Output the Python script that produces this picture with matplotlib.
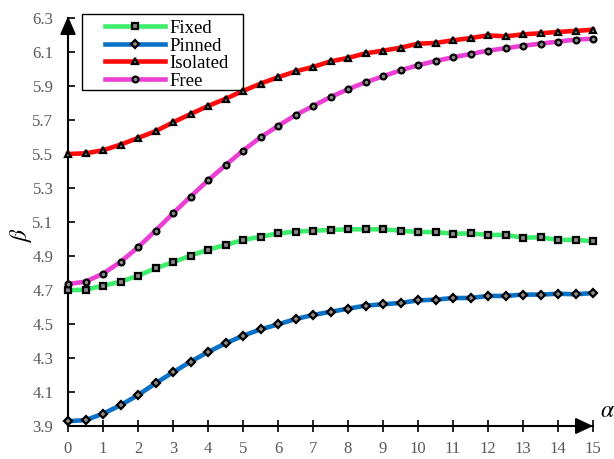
import numpy as np
import matplotlib
matplotlib.use('Agg')
import matplotlib.pyplot as plt
from matplotlib.patches import Polygon, Rectangle

# === DATA ===
alpha = np.arange(0, 15.01, 0.5)

fixed = [4.698, 4.702, 4.725, 4.749, 4.784, 4.828, 4.863, 4.902, 4.937, 4.965,
         4.994, 5.013, 5.033, 5.043, 5.049, 5.053, 5.057, 5.057, 5.057, 5.049,
         5.041, 5.041, 5.031, 5.033, 5.024, 5.024, 5.008, 5.010, 4.994, 4.996,
         4.986]
pinned = [3.928, 3.935, 3.972, 4.022, 4.082, 4.151, 4.216, 4.278, 4.335, 4.386,
          4.431, 4.468, 4.498, 4.529, 4.553, 4.572, 4.590, 4.608, 4.616, 4.624,
          4.639, 4.643, 4.653, 4.653, 4.665, 4.665, 4.673, 4.673, 4.678, 4.675,
          4.682]
isolated = [5.500, 5.504, 5.522, 5.555, 5.594, 5.634, 5.686, 5.735, 5.782, 5.825,
            5.871, 5.914, 5.951, 5.986, 6.012, 6.045, 6.065, 6.092, 6.108, 6.125,
            6.149, 6.153, 6.169, 6.182, 6.198, 6.192, 6.204, 6.210, 6.218, 6.224,
            6.231]
free = [4.735, 4.749, 4.796, 4.865, 4.951, 5.049, 5.151, 5.249, 5.345, 5.434,
        5.520, 5.598, 5.665, 5.729, 5.782, 5.835, 5.881, 5.922, 5.957, 5.992,
        6.022, 6.047, 6.069, 6.088, 6.108, 6.122, 6.137, 6.149, 6.161, 6.173,
        6.178]

labels = ['Fixed', 'Pinned', 'Isolated', 'Free']
colors = ['#3ded6c', '#0a72c6', '#ff0a0a', '#ea3ed4']
markers = ['s', 'D', '^', 'o']
msizes = [4.0, 3.6, 4.6, 4.2]

yticks = np.round(np.arange(3.9, 6.31, 0.2), 1)
xticks = np.arange(0, 16, 1)

# === PLOT ===
plt.rcParams['font.family'] = ['Liberation Serif', 'DejaVu Serif']
plt.rcParams['mathtext.fontset'] = 'stix'

fig = plt.figure(figsize=(6.14, 4.59), dpi=100)
ax = fig.add_axes([68 / 614, 33 / 459, 525 / 614, 408 / 459])

for ys, lab, c, m, ms in zip([fixed, pinned, isolated, free], labels, colors, markers, msizes):
    ax.plot(alpha, ys, color=c, lw=3.3, marker=m, markersize=ms,
            markerfacecolor='#8a8a8a', markeredgecolor='black', markeredgewidth=1.6,
            label=lab, clip_on=False, zorder=3)

ax.set_xlim(0, 15)
ax.set_ylim(3.9, 6.3)
ax.set_xticks(xticks)
ax.set_yticks(yticks)
ax.set_yticklabels([f'{v:.1f}' for v in yticks])
ax.tick_params(axis='x', direction='inout', length=9, width=1.2, colors='black',
               labelcolor='#595959', labelsize=12, pad=6)
ax.tick_params(axis='y', direction='in', length=5, width=1.2, colors='black',
               labelcolor='#595959', labelsize=12, pad=10.5)

for s in ['top', 'right']:
    ax.spines[s].set_visible(False)
for s in ['left', 'bottom']:
    ax.spines[s].set_linewidth(1.5)

# axis arrows
ax.add_patch(Polygon([[0, 1], [-0.0135, 1 - 0.04], [0.0135, 1 - 0.04]], closed=True,
                     transform=ax.transAxes, color='black', clip_on=False, zorder=5))
ax.add_patch(Polygon([[0.997, 0], [0.997 - 0.03, 0.018], [0.997 - 0.03, -0.018]], closed=True,
                     transform=ax.transAxes, color='black', clip_on=False, zorder=5))

ax.text(-0.09, 0.47, r'$\beta$', transform=ax.transAxes, fontsize=17, rotation=90,
        ha='center', va='center')
ax.text(1.027, 0.035, r'$\alpha$', transform=ax.transAxes, fontsize=17,
        ha='center', va='center')

# legend (frame drawn separately, wider than the entries)
leg = ax.legend(loc='upper left', bbox_to_anchor=(0.066, 1.0), fontsize=13.5,
                handlelength=3.2, handletextpad=0.25, labelspacing=0.02,
                borderpad=0.1, borderaxespad=0, frameon=False)
ax.add_patch(Rectangle((14 / 525, (426 - 90) / 408), 161 / 525, 76 / 408,
                       transform=ax.transAxes, fill=False, edgecolor='black',
                       lw=1.0, clip_on=False, zorder=6))

fig.savefig('out.png', dpi=100)
